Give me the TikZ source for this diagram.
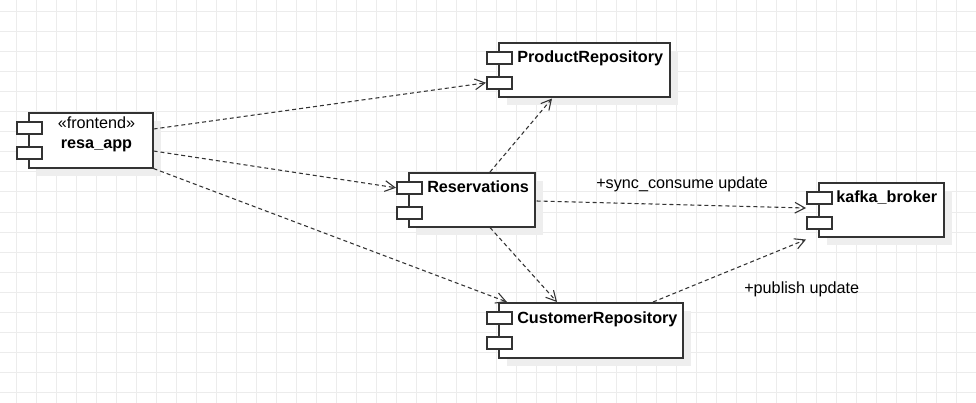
\documentclass[tikz,border=0pt]{standalone}
\usepackage{fontspec}
\setmainfont{Liberation Sans}
\usetikzlibrary{calc,arrows.meta,shadows}
\newdimen\pxu \pxu=0.75pt
\definecolor{gridc}{RGB}{236,236,236}
\definecolor{shadc}{RGB}{238,238,238}
\definecolor{linec}{RGB}{51,51,51}
\tikzset{
  comp/.style={draw=linec, fill=white, line width=1.15pt, anchor=north west, inner sep=0pt,
    drop shadow={shadow xshift=6pt, shadow yshift=-6pt, fill=shadc, opacity=1}},
  port/.style={draw=linec, fill=white, line width=1.15pt, anchor=north west, inner sep=0pt,
    minimum width=25\pxu, minimum height=12\pxu},
  dep/.style={draw=linec, line width=0.8pt, dash pattern=on 3pt off 2.25pt,
    -{Straight Barb[length=7.5pt,width=8pt]}},
  lbl/.style={font=\fontsize{12.15}{14}\selectfont, inner sep=0pt, anchor=base west},
  lblb/.style={lbl, font=\fontsize{12.15}{14}\selectfont\bfseries}
}
\begin{document}
\begin{tikzpicture}[x=0.75pt,y=-0.75pt]
\useasboundingbox (0,0) rectangle (976,403);
\fill[white] (0,0) rectangle (976,403);
% grid
\draw[gridc, line width=0.75pt] \foreach \i in {0,...,48} {(16+20*\i,0) -- (16+20*\i,403)};
\draw[gridc, line width=0.75pt] \foreach \j in {0,...,19} {(0,12+20*\j) -- (976,12+20*\j)};
% components
\node[comp, minimum width=124\pxu, minimum height=55\pxu] (resa) at (28,112) {};
\node[comp, minimum width=171\pxu, minimum height=54\pxu] (prod) at (498,42) {};
\node[comp, minimum width=126\pxu, minimum height=54\pxu] (resv) at (408,172) {};
\node[comp, minimum width=125\pxu, minimum height=54\pxu] (kafka) at (818,182) {};
\node[comp, minimum width=184\pxu, minimum height=55\pxu] (cust) at (498,302) {};
% ports
\node[port] (resap1) at (16,121) {};
\node[port] (resap2) at (16,146) {};
\node[port] (prodp1) at (486,51) {};
\node[port] (prodp2) at (486,76) {};
\node[port] (resvp1) at (396,181) {};
\node[port] (resvp2) at (396,206) {};
\node[port] (kafkap1) at (806,191) {};
\node[port] (kafkap2) at (806,216) {};
\node[port] (custp1) at (486,311) {};
\node[port] (custp2) at (486,336) {};
% texts
\node[lbl, anchor=base] (resast) at (96.5,129) {«frontend»};
\node[lblb, anchor=base] (resalbl) at (96.5,149) {resa\_app};
\node[lblb] (prodlbl) at (517,63) {ProductRepository};
\node[lblb] (resvlbl) at (427,193) {Reservations};
\node[lblb] (kafkalbl) at (836,203) {kafka\_broker};
\node[lblb] (custlbl) at (517,323) {CustomerRepository};
\node[lbl] (synclbl) at (596,189) {+sync\_consume update};
\node[lbl] (publbl) at (744,293) {+publish update};
% connectors
\draw[dep] ($(resa.north east)+(0,17)$) -- (prodp2.west);
\draw[dep] ($(resa.north east)+(0,39)$) -- (resvp1.west);
\draw[dep] (resa.south east) -- ($(cust.north west)+(9,0)$);
\draw[dep] ($(resv.north west)+(82,0)$) -- ($(prod.south west)+(54,1)$);
\draw[dep] ($(resv.north east)+(1,29)$) -- ($(kafka.north west)+(-12,26)$);
\draw[dep] ($(resv.south west)+(82,0)$) -- ($(cust.north west)+(59,0)$);
\draw[dep] ($(cust.north west)+(155,0)$) -- ($(kafka.south west)+(-12,2)$);
\end{tikzpicture}
\end{document}
